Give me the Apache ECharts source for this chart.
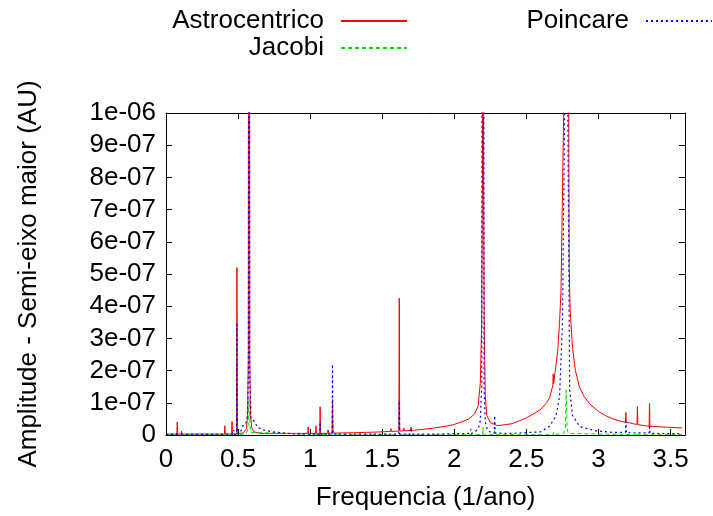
<!DOCTYPE html>
<html>
<head>
<meta charset="utf-8">
<script src="https://cdn.jsdelivr.net/npm/echarts@6/dist/echarts.min.js"></script>
<style>
html,body{margin:0;padding:0;background:#fff;}
#chart{width:713px;height:516px;}
</style>
</head>
<body>
<div id="chart"></div>
<script>
// ---- Data ----
var seriesNames = ['Astrocentrico', 'Jacobi', 'Poincare'];
var xTickLabels = ['0', '0.5', '1', '1.5', '2', '2.5', '3', '3.5'];
var yTickLabels = ['0', '1e-07', '2e-07', '3e-07', '4e-07', '5e-07', '6e-07', '7e-07', '8e-07', '9e-07', '1e-06'];

// Astrocentrico (red)
var astroFreq = [0, 0.075, 0.078, 0.081, 0.105, 0.108, 0.111, 0.2, 0.405, 0.408, 0.411, 0.455, 0.458, 0.461,
  0.489, 0.492, 0.495, 0.53, 0.545, 0.558, 0.566, 0.571, 0.576, 0.581, 0.586, 0.595, 0.61, 0.65,
  0.9, 0.983, 0.986, 0.989, 1.037, 1.040, 1.043, 1.066, 1.069, 1.072, 1.122, 1.125, 1.128, 1.152, 1.155, 1.158,
  1.3, 1.45, 1.557, 1.560, 1.563, 1.615, 1.618, 1.621, 1.647, 1.650, 1.653, 1.697, 1.700, 1.703,
  1.75, 1.85, 1.95, 2.0, 2.06, 2.1, 2.14, 2.165, 2.18, 2.19, 2.195, 2.199, 2.203, 2.208, 2.215, 2.225, 2.25, 2.3,
  2.4, 2.45, 2.5, 2.567, 2.6, 2.64, 2.66, 2.683, 2.686, 2.689, 2.7, 2.717, 2.73, 2.74, 2.744, 2.75, 2.76, 2.768,
  2.776, 2.785, 2.793, 2.797, 2.8, 2.803, 2.82, 2.84, 2.868, 2.9, 2.94, 3.0, 3.05, 3.1, 3.17,
  3.187, 3.19, 3.193, 3.25, 3.267, 3.27, 3.273, 3.28, 3.351, 3.354, 3.357, 3.4, 3.48, 3.58];
var astroAmp = [3e-9, 3e-9, 4e-8, 3e-9, 3e-9, 1.2e-8, 3e-9, 3e-9, 3e-9, 2.9e-8, 3e-9, 3e-9, 4.2e-8, 3e-9,
  3e-9, 5.2e-7, 4e-9, 6e-9, 1e-8, 2e-8, 6e-8, 2.5e-7, 5e-6, 2.5e-7, 6e-8, 2.2e-8, 1e-8, 5e-9,
  5e-9, 5e-9, 2.5e-8, 5e-9, 5e-9, 2.9e-8, 5e-9, 5e-9, 8.8e-8, 5e-9, 5e-9, 1.5e-8, 6e-9, 6e-9, 1.1e-7, 6e-9,
  7e-9, 9e-9, 1.1e-8, 2e-8, 1.1e-8, 1.2e-8, 4.25e-7, 1.2e-8, 1.3e-8, 2.2e-8, 1.3e-8, 1.4e-8, 2.5e-8, 1.4e-8,
  1.6e-8, 2.1e-8, 2.8e-8, 3.3e-8, 4.2e-8, 5e-8, 6.5e-8, 9e-8, 1.6e-7, 3.5e-7, 8e-7, 5e-6, 8e-7, 3e-7, 1.2e-7, 6e-8, 3.8e-8, 2.9e-8,
  3.5e-8, 4.4e-8, 5.3e-8, 7e-8, 8e-8, 1e-7, 1.15e-7, 1.53e-7, 1.9e-7, 1.6e-7, 2e-7, 2.6e-7, 3.5e-7, 4.5e-7, 5.7e-7, 5.7e-7, 1.05e-6, 2e-6,
  5e-6, 2e-6, 1.05e-6, 5.2e-7, 5.2e-7, 3.9e-7, 2.7e-7, 2e-7, 1.48e-7, 1.2e-7, 9.6e-8, 7.3e-8, 6e-8, 5e-8, 4.1e-8,
  4e-8, 7e-8, 4e-8, 3.4e-8, 3.3e-8, 8.8e-8, 3.2e-8, 3.1e-8, 2.7e-8, 9.8e-8, 2.7e-8, 2.6e-8, 2.4e-8, 2.2e-8];

// Jacobi (green)
var jacobiFreq = [0, 0.489, 0.492, 0.495, 0.55, 0.562, 0.57, 0.576, 0.582, 0.59, 0.6,
  1.152, 1.155, 1.158, 2.196, 2.199, 2.202, 2.277, 2.28, 2.283, 2.686, 2.689, 2.692,
  2.76, 2.77, 2.776, 2.782, 2.79, 3.267, 3.27, 3.273, 3.58];
var jacobiAmp = [1e-9, 1e-9, 1.8e-8, 1e-9, 2e-9, 1e-8, 3e-8, 1.15e-7, 3e-8, 8e-9, 2e-9,
  1e-9, 1.2e-8, 1e-9, 1e-9, 2.5e-8, 1e-9, 1e-9, 1.3e-8, 1e-9, 1e-9, 8e-9, 1e-9,
  5e-9, 2e-8, 1.4e-7, 2e-8, 5e-9, 1e-9, 8e-9, 1e-9, 1e-9];

// Poincare (blue)
var poincFreq = [0, 0.3, 0.467, 0.47, 0.473, 0.489, 0.492, 0.495, 0.52, 0.54, 0.555, 0.565, 0.572, 0.576, 0.58, 0.59,
  0.62, 0.63, 0.68, 0.75, 0.9, 1.066, 1.069, 1.072, 1.122, 1.125, 1.128, 1.152, 1.155, 1.158,
  1.615, 1.618, 1.621, 1.697, 1.7, 1.703, 1.9, 2.1, 2.113, 2.116, 2.119, 2.15, 2.17, 2.18, 2.19, 2.199, 2.206, 2.215, 2.23,
  2.26, 2.277, 2.28, 2.283, 2.4, 2.6, 2.66, 2.706, 2.73, 2.75, 2.765, 2.776, 2.787, 2.8, 2.82, 2.87, 2.98,
  3.1, 3.187, 3.19, 3.193, 3.267, 3.27, 3.273, 3.351, 3.354, 3.357, 3.58];
var poincAmp = [2e-9, 2e-9, 3e-9, 1.5e-8, 3e-9, 3e-9, 3.5e-7, 3e-9, 1.3e-8, 3.5e-8, 3.8e-8, 6e-8, 2e-7, 5e-6, 2e-7, 5e-8,
  4e-8, 2.5e-8, 1.5e-8, 9e-9, 3e-9, 3e-9, 4e-8, 3e-9, 3e-9, 1.5e-8, 3e-9, 3e-9, 2.2e-7, 3e-9,
  3e-9, 1.06e-7, 3e-9, 3e-9, 2.2e-8, 3e-9, 3e-9, 5e-9, 5e-9, 1.8e-8, 5e-9, 1.2e-8, 2.5e-8, 4.5e-8, 1.5e-7, 5e-6, 1.5e-7, 4e-8, 1.5e-8,
  6e-9, 6e-9, 6e-8, 6e-9, 5e-9, 1e-8, 2.7e-8, 6e-8, 1.2e-7, 3.5e-7, 1e-6, 5e-6, 1e-6, 1.4e-7, 6e-8, 2.6e-8, 1.3e-8,
  8e-9, 8e-9, 4.2e-8, 7e-9, 7e-9, 1.2e-8, 6e-9, 6e-9, 3.2e-8, 5e-9, 4e-9];

function pairs(xs, ys) {
  var out = [];
  for (var i = 0; i < xs.length; i++) out.push([xs[i], ys[i]]);
  return out;
}

var FONT = '"Liberation Sans", Arial, sans-serif';
var FS = 26;
var chart = echarts.init(document.getElementById('chart'), null, {renderer: 'canvas'});

var axisLineStyle = {color: '#000', width: 1};
var tickStyle = {show: true, inside: true, length: 6, lineStyle: {color: '#000', width: 1}};
function legendCfg(name, right, top) {
  return {data: [name], right: right, top: top, align: 'right', orient: 'vertical', padding: 0,
    itemWidth: 66, itemHeight: 12, itemStyle: {opacity: 0, borderWidth: 0},
    textStyle: {fontSize: FS, fontFamily: FONT, color: '#000', padding: [0, 12, 0, 0]}};
}

var option = {
  animation: false,
  backgroundColor: '#fff',
  grid: {left: 166, right: 28, top: 113, bottom: 80, containLabel: false},
  legend: [
    legendCfg(seriesNames[0], 305, 8),
    legendCfg(seriesNames[1], 305, 35),
    legendCfg(seriesNames[2], 0, 8)
  ],
  xAxis: [
    {type: 'value', min: 0, max: 3.6, interval: 0.5, position: 'bottom',
     name: 'Frequencia (1/ano)', nameLocation: 'middle', nameGap: 50,
     nameTextStyle: {fontSize: FS, fontFamily: FONT, color: '#000'},
     axisLine: {show: true, onZero: false, lineStyle: axisLineStyle},
     axisTick: tickStyle, splitLine: {show: false},
     axisLabel: {fontSize: FS, fontFamily: FONT, color: '#000', margin: 12, showMaxLabel: false,
       formatter: function (v) { var i = Math.round(v / 0.5); return xTickLabels[i] !== undefined ? xTickLabels[i] : ''; }}},
    {type: 'value', min: 0, max: 3.6, interval: 0.5, position: 'top',
     axisLine: {show: true, onZero: false, lineStyle: axisLineStyle},
     axisTick: tickStyle, axisLabel: {show: false}, splitLine: {show: false}}
  ],
  yAxis: [
    {type: 'value', min: 0, max: 1e-6, interval: 1e-7, position: 'left',
     name: 'Amplitude - Semi-eixo maior (AU)', nameLocation: 'middle', nameGap: 124, nameRotate: 90,
     nameTextStyle: {fontSize: FS, fontFamily: FONT, color: '#000'},
     axisLine: {show: true, onZero: false, lineStyle: axisLineStyle},
     axisTick: tickStyle, splitLine: {show: false},
     axisLabel: {fontSize: FS, fontFamily: FONT, color: '#000', margin: 10,
       formatter: function (v) { return yTickLabels[Math.round(v / 1e-7)]; }}},
    {type: 'value', min: 0, max: 1e-6, interval: 1e-7, position: 'right',
     axisLine: {show: true, onZero: false, lineStyle: axisLineStyle},
     axisTick: tickStyle, axisLabel: {show: false}, splitLine: {show: false}}
  ],
  series: [
    {name: seriesNames[0], type: 'line', data: pairs(astroFreq, astroAmp), symbol: 'none', clip: true, z: 3,
     itemStyle: {color: '#ff0000'}, lineStyle: {color: '#ff0000', width: 1}},
    {name: seriesNames[1], type: 'line', data: pairs(jacobiFreq, jacobiAmp), symbol: 'none', clip: true, z: 4,
     itemStyle: {color: '#00e000'}, lineStyle: {color: '#00e000', width: 1, type: [4, 3]}},
    {name: seriesNames[2], type: 'line', data: pairs(poincFreq, poincAmp), symbol: 'none', clip: true, z: 5,
     itemStyle: {color: '#0000ff'}, lineStyle: {color: '#0000ff', width: 1.2, type: [2, 3]}}
  ]
};
chart.setOption(option);
</script>
</body>
</html>
